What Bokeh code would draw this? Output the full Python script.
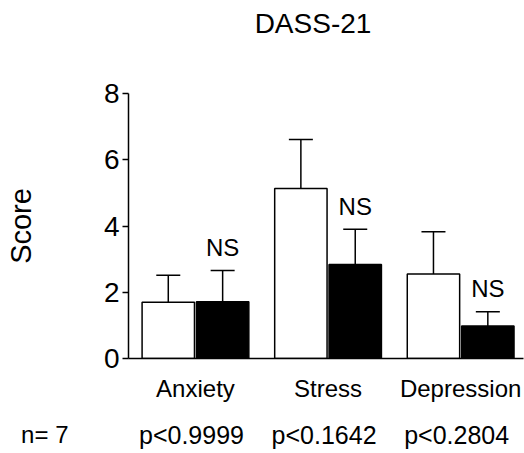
import numpy as np
from bokeh.plotting import figure
from bokeh.layouts import column
from bokeh.models import ColumnDataSource, Range1d, FixedTicker, Whisker, TeeHead
from bokeh.core.properties import value
from bokeh.embed import file_html
from bokeh.resources import INLINE

# ---- data ----
categories = ["Anxiety", "Stress", "Depression"]
control_mean = [1.70, 5.13, 2.55]
control_sem = [0.81, 1.48, 1.28]
treated_mean = [1.71, 2.84, 0.98]
treated_sem = [0.95, 1.06, 0.43]
sig_labels = ["NS", "NS", "NS"]
p_labels = ["p<0.9999", "p<0.1642", "p<0.2804"]
n_label = "n= 7"
title_text = "DASS-21"
y_ticks = [0, 2, 4, 6, 8]

FONT = "Liberation Sans"
W = 524
TOP_H, MAIN_H, BOT_H = 45, 368, 40
X0, X1 = -0.505, 2.474          # main x range
FRAME_L, FRAME_R = 128, 1        # frame borders shared by all strips
idx = np.arange(len(categories))
off = 0.205
bw = 0.395
ppu = (W - FRAME_L - FRAME_R) / (X1 - X0)


def strip(h):
    f = figure(width=W, height=h, output_backend="svg", toolbar_location=None,
               x_range=Range1d(X0, X1), y_range=Range1d(0, h),
               x_axis_location=None, min_border_left=FRAME_L,
               min_border_right=FRAME_R, min_border_top=0, min_border_bottom=0)
    f.grid.visible = False
    f.outline_line_color = None
    return f


# ---- title strip ----
top = strip(TOP_H)
top.yaxis.visible = False
top.text(x=[X0 + (312.5 - FRAME_L) / ppu], y=[TOP_H - 22.5], text=[title_text],
         text_align="center", text_baseline="middle",
         text_font=value(FONT), text_font_size="28px", text_color="black")

# ---- main plot ----
p = figure(width=W, height=MAIN_H, output_backend="svg", toolbar_location=None,
           x_range=Range1d(X0, X1), y_range=Range1d(0, 8),
           min_border_left=FRAME_L, min_border_right=FRAME_R,
           min_border_top=48, min_border_bottom=MAIN_H - 48 - 265)
p.outline_line_color = None
p.grid.visible = False

src_c = ColumnDataSource(dict(x=idx - off, top=control_mean,
                              upper=np.array(control_mean) + np.array(control_sem)))
src_t = ColumnDataSource(dict(x=idx + off, top=treated_mean,
                              upper=np.array(treated_mean) + np.array(treated_sem),
                              lab=sig_labels))

p.vbar(x="x", top="top", bottom=0, width=bw, source=src_c,
       fill_color="white", line_color="black", line_width=1.5)
p.vbar(x="x", top="top", bottom=0, width=bw, source=src_t,
       fill_color="black", line_color="black", line_width=1.5)

for s in (src_c, src_t):
    p.add_layout(Whisker(source=s, base="x", lower="top", upper="upper",
                         line_color="black", line_width=1.5,
                         upper_head=TeeHead(size=24, line_color="black", line_width=1.5),
                         lower_head=None))

p.text(x="x", y="upper", text="lab", source=src_t, y_offset=-23,
       text_align="center", text_baseline="alphabetic",
       text_font=value(FONT), text_font_size="24px", text_color="black")

p.yaxis.ticker = FixedTicker(ticks=y_ticks)
p.yaxis.minor_tick_line_color = None
p.yaxis.major_tick_out = 6
p.yaxis.major_tick_in = 0
p.yaxis.major_tick_line_width = 1.5
p.yaxis.axis_line_width = 1.5
p.yaxis.major_label_standoff = 3
p.yaxis.major_label_text_font = FONT
p.yaxis.major_label_text_font_size = "28px"
p.yaxis.major_label_text_color = "black"
p.yaxis.axis_label = "Score"
p.yaxis.axis_label_text_font = FONT
p.yaxis.axis_label_text_font_size = "29px"
p.yaxis.axis_label_text_font_style = "normal"
p.yaxis.axis_label_text_color = "black"
p.yaxis.axis_label_standoff = 64

p.xaxis.ticker = FixedTicker(ticks=list(idx))
p.xaxis.major_label_overrides = {int(i): c for i, c in zip(idx, categories)}
p.xaxis.minor_tick_line_color = None
p.xaxis.major_tick_line_color = None
p.xaxis.axis_line_width = 1.5
p.xaxis.major_label_standoff = 10
p.xaxis.major_label_text_font = FONT
p.xaxis.major_label_text_font_size = "24px"
p.xaxis.major_label_text_color = "black"

# ---- bottom strip: n and p-values ----
bot = strip(BOT_H)
row_y = BOT_H - 21
bot.text(x=list(idx - 4 / ppu), y=[row_y] * len(p_labels), text=p_labels,
         text_align="center", text_baseline="middle",
         text_font=value(FONT), text_font_size="25px", text_color="black")
# "n= 7" shown as the single tick label of the strip's left axis
bot.yaxis.ticker = FixedTicker(ticks=[row_y])
bot.yaxis.major_label_overrides = {row_y: n_label}
bot.yaxis.axis_line_color = None
bot.yaxis.major_tick_line_color = None
bot.yaxis.minor_tick_line_color = None
bot.yaxis.major_tick_out = 0
bot.yaxis.major_label_standoff = 60
bot.yaxis.major_label_text_font = FONT
bot.yaxis.major_label_text_font_size = "24px"
bot.yaxis.major_label_text_color = "black"

layout = column(top, p, bot, spacing=0)
open("out.html", "w").write(file_html(layout, INLINE))
